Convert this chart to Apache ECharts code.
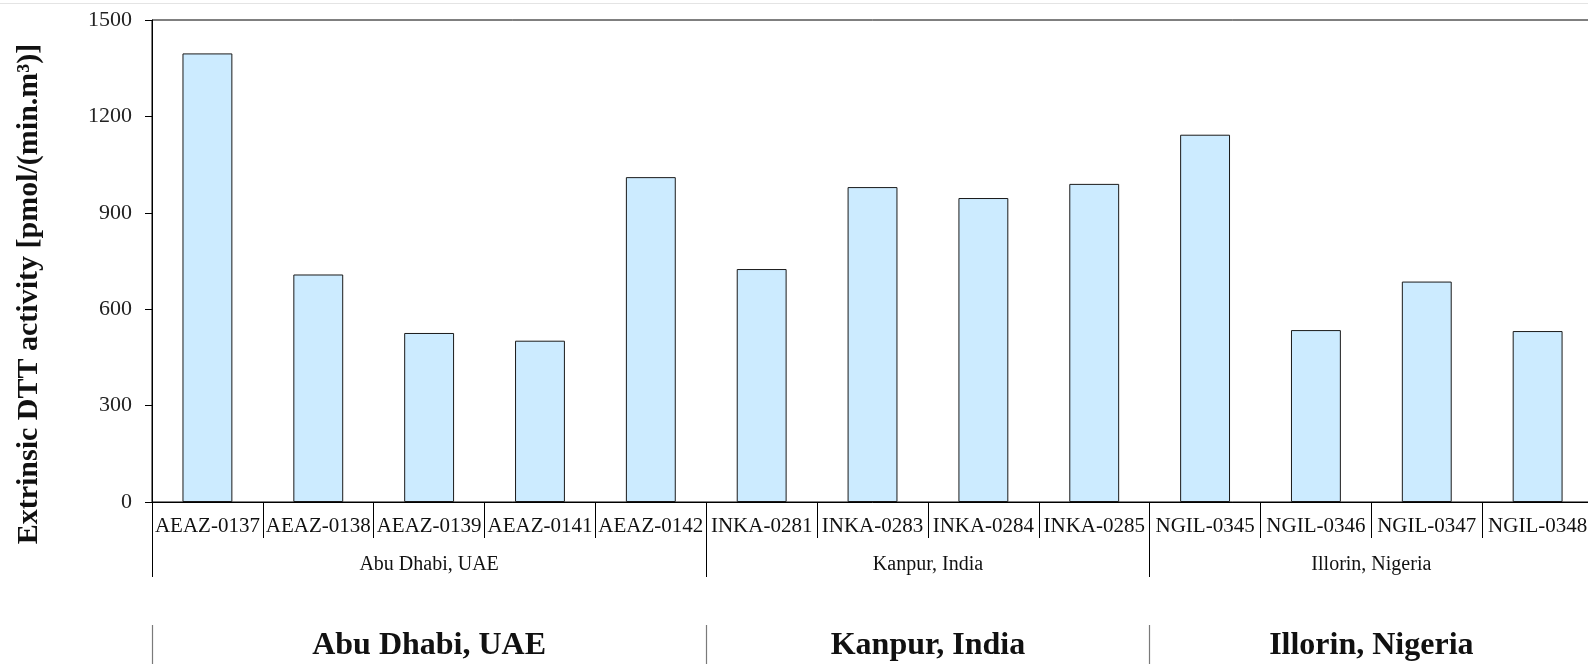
<!DOCTYPE html>
<html>
<head>
<meta charset="utf-8">
<title>Extrinsic DTT activity</title>
<script src="https://cdn.jsdelivr.net/npm/echarts@6/dist/echarts.min.js"></script>
<style>
  html, body { margin: 0; padding: 0; background: #fff; overflow: hidden; }
  #chart { width: 1604px; height: 664px; }
</style>
</head>
<body>
<div id="chart"></div>
<script>
// Sample identifiers along the x axis
const samples = [
  'AEAZ-0137', 'AEAZ-0138', 'AEAZ-0139', 'AEAZ-0141', 'AEAZ-0142',
  'INKA-0281', 'INKA-0283', 'INKA-0284', 'INKA-0285',
  'NGIL-0345', 'NGIL-0346', 'NGIL-0347', 'NGIL-0348'
];
// Extrinsic DTT activity, pmol/(min.m3)
const dttActivity = [1396, 708, 526, 502, 1011, 725, 980, 946, 990, 1143, 535, 686, 532];
// Sampling sites and how many samples belong to each
const sites = ['Abu Dhabi, UAE', 'Kanpur, India', 'Illorin, Nigeria'];
const siteSampleCounts = [5, 4, 4];
// Value axis ticks
const yMin = 0, yMax = 1500, yStep = 300;
const yTitle = 'Extrinsic DTT activity [pmol/(min.m\u00B3)]';

// Site boundaries and centres in sample-index units
const siteEdges = [0];
siteSampleCounts.forEach(n => siteEdges.push(siteEdges[siteEdges.length - 1] + n));
const siteCentres = sites.map((_, i) => (siteEdges[i] + siteEdges[i + 1]) / 2);
const siteName = v => {
  const i = siteCentres.findIndex(c => Math.abs(c - v) < 1e-6);
  return i >= 0 ? sites[i] : '';
};

const SERIF = '"Liberation Serif", "Times New Roman", serif';
const INK = '#111';

const gridLeft = 152, gridTop = 20, gridHeight = 482;
const catWidth = 110.85;

const chart = echarts.init(document.getElementById('chart'), null, { renderer: 'canvas' });
chart.setOption({
  animation: false,
  backgroundColor: '#fff',
  grid: {
    left: gridLeft, top: gridTop, height: gridHeight,
    width: catWidth * samples.length,
    show: true, borderColor: '#000', borderWidth: 1,
    containLabel: false
  },
  xAxis: [
    {
      type: 'category',
      data: samples,
      position: 'bottom',
      boundaryGap: true,
      axisLine: { show: true, lineStyle: { color: '#000', width: 1 } },
      axisTick: { show: true, interval: 0, length: 36, lineStyle: { color: '#000', width: 1 } },
      axisLabel: {
        interval: 0, margin: 14,
        fontFamily: SERIF, fontSize: 21, color: INK
      },
      splitLine: { show: false }
    },
    {
      type: 'value',
      min: 0, max: samples.length,
      position: 'bottom',
      axisLine: { show: false },
      axisTick: {
        show: true, customValues: siteEdges, length: 75,
        lineStyle: { color: '#000', width: 1 }
      },
      axisLabel: {
        customValues: siteCentres, formatter: siteName, margin: 53,
        fontFamily: SERIF, fontSize: 20, color: INK
      },
      splitLine: { show: false }
    },
    {
      type: 'value',
      min: 0, max: samples.length,
      position: 'bottom',
      offset: 123,
      axisLine: { show: false },
      axisTick: {
        show: true, customValues: siteEdges.slice(0, -1), length: 42,
        lineStyle: { color: '#7a7a7a', width: 1.2 }
      },
      axisLabel: {
        customValues: siteCentres, formatter: siteName, margin: 5,
        fontFamily: SERIF, fontSize: 32, fontWeight: 'bold', color: INK
      },
      splitLine: { show: false }
    }
  ],
  yAxis: {
    type: 'value',
    min: yMin, max: yMax, interval: yStep,
    axisLine: { show: true, lineStyle: { color: '#000', width: 1 } },
    axisTick: { show: true, length: 7, lineStyle: { color: '#000' } },
    axisLabel: {
      margin: 20, fontFamily: SERIF, fontSize: 22, color: '#222',
      formatter: v => String(v)
    },
    splitLine: { show: false }
  },
  graphic: [
    {
      type: 'line',
      shape: { x1: 0, y1: 3.5, x2: 1588, y2: 3.5 },
      style: { stroke: '#e4e4e4', lineWidth: 1 },
      silent: true
    },
    {
      type: 'text',
      x: 29, y: 294,
      rotation: Math.PI / 2,
      style: {
        text: yTitle,
        fontFamily: SERIF, fontSize: 30, fontWeight: 'bold',
        fill: INK, align: 'center', verticalAlign: 'middle'
      },
      silent: true
    }
  ],
  series: [
    {
      type: 'bar',
      xAxisIndex: 0,
      data: dttActivity,
      barWidth: '45%',
      itemStyle: { color: '#CCEBFF', borderColor: '#1a1a1a', borderWidth: 1 },
      emphasis: { disabled: true }
    }
  ]
});
</script>
</body>
</html>
